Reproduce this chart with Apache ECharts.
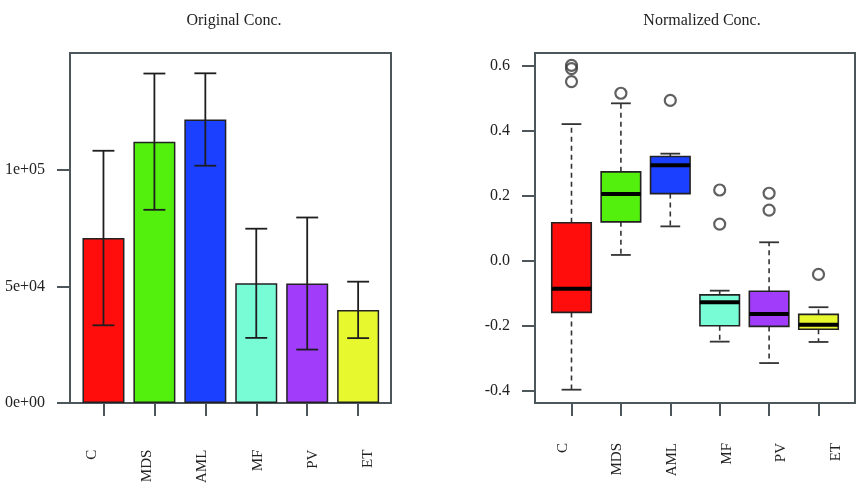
<!DOCTYPE html>
<html>
<head>
<meta charset="utf-8">
<title>Conc.</title>
<script src="https://cdn.jsdelivr.net/npm/echarts@6/dist/echarts.min.js"></script>
<style>
  html, body { margin: 0; padding: 0; background: #fff; }
  #main { width: 863px; height: 486px; }
</style>
</head>
<body>
<div id="main"></div>
<script>
// categories
var categories = ['C', 'MDS', 'AML', 'MF', 'PV', 'ET'];
var colors = ['#ff0c0c', '#52f00c', '#1c40ff', '#78fcd6', '#a03cfa', '#e8f82e'];

// left: original conc. (mean +/- error)
var barMeans = [70700, 112000, 121500, 51300, 51200, 39900];
var barErrors = [37400, 29200, 19800, 23400, 28300, 12100];
var leftTickLabels = ['0e+00', '5e+04', '1e+05'];

// right: normalized conc. boxplot
var boxLower = [-0.397, 0.018, 0.106, -0.249, -0.315, -0.250];
var boxQ1 = [-0.159, 0.120, 0.207, -0.200, -0.202, -0.211];
var boxMedian = [-0.086, 0.206, 0.294, -0.128, -0.164, -0.197];
var boxQ3 = [0.117, 0.274, 0.321, -0.105, -0.094, -0.165];
var boxUpper = [0.421, 0.485, 0.330, -0.092, 0.057, -0.143];
var outliers = [[0, 0.602], [0, 0.592], [0, 0.552], [1, 0.516], [2, 0.494],
  [3, 0.218], [3, 0.113], [4, 0.208], [4, 0.156], [5, -0.042]];
var rightTickLabels = ['-0.4', '-0.2', '0.0', '0.2', '0.4', '0.6'];

var font = 'Liberation Serif';
var textColor = '#222';
var frameColor = '#4d575b';

var chart = echarts.init(document.getElementById('main'));

function hiddenX(grid) {
  return { type: 'value', gridIndex: grid, show: false };
}
function hiddenY(grid) {
  return { type: 'value', gridIndex: grid, show: false };
}
// category axis that only draws the ticks (kept at the bottom, not at zero)
function tickX(grid) {
  return {
    type: 'category', gridIndex: grid, data: categories,
    axisLine: { show: false, onZero: false },
    axisTick: { show: true, alignWithLabel: true, length: 13, lineStyle: { color: frameColor, width: 2 } },
    axisLabel: { show: false },
    splitLine: { show: false }
  };
}
// category axis that only draws the names
function labelX(grid, margin) {
  return {
    type: 'category', gridIndex: grid, data: categories,
    axisLine: { show: false, onZero: false },
    axisTick: { show: false },
    axisLabel: { rotate: 90, margin: margin, fontFamily: font, fontSize: 15, color: textColor },
    splitLine: { show: false }
  };
}
function tickY(grid, min, max, interval, labels) {
  return {
    type: 'value', gridIndex: grid, min: min, max: max, interval: interval,
    axisLine: { show: false },
    axisTick: { show: true, length: 13, lineStyle: { color: frameColor, width: 2 } },
    axisLabel: {
      margin: 25, fontFamily: font, fontSize: 16, color: textColor,
      formatter: function (v, i) { return labels[i]; }
    },
    splitLine: { show: false }
  };
}

var errorData = categories.map(function (c, i) {
  return [i, barMeans[i] - barErrors[i], barMeans[i] + barErrors[i]];
});
var boxData = categories.map(function (c, i) {
  return [i, boxLower[i], boxQ1[i], boxMedian[i], boxQ3[i], boxUpper[i]];
});

var option = {
  animation: false,
  backgroundColor: '#fff',
  title: [
    { text: 'Original Conc.', left: 229, top: 8, textAlign: 'center',
      textStyle: { fontFamily: font, fontSize: 16, fontWeight: 'normal', color: textColor } },
    { text: 'Normalized Conc.', left: 697, top: 8, textAlign: 'center',
      textStyle: { fontFamily: font, fontSize: 16, fontWeight: 'normal', color: textColor } }
  ],
  grid: [
    // left panel: frame, y ticks, data, names
    { left: 70, top: 53, width: 321, height: 350, show: true, borderColor: frameColor, borderWidth: 2, backgroundColor: 'transparent' },
    { left: 70, top: 169.7, width: 321, height: 233.3 },
    { left: 78, top: 53, width: 305.6, height: 350 },
    { left: 64, top: 53, width: 332, height: 350 },
    // right panel
    { left: 535, top: 53, width: 320, height: 350, show: true, borderColor: frameColor, borderWidth: 2, backgroundColor: 'transparent' },
    { left: 535, top: 66, width: 320, height: 324.7 },
    { left: 546.8, top: 53, width: 296.4, height: 350 },
    { left: 535.6, top: 53, width: 332.4, height: 350 }
  ],
  xAxis: [
    hiddenX(0), hiddenX(1), tickX(2), labelX(3, 47),
    hiddenX(4), hiddenX(5), tickX(6), labelX(7, 40)
  ],
  yAxis: [
    hiddenY(0),
    tickY(1, 0, 100000, 50000, leftTickLabels),
    { type: 'value', gridIndex: 2, min: 0, max: 150000, show: false },
    hiddenY(3),
    hiddenY(4),
    tickY(5, -0.4, 0.6, 0.2, rightTickLabels),
    { type: 'value', gridIndex: 6, min: -0.438, max: 0.64, show: false },
    hiddenY(7)
  ],
  series: [
    {
      type: 'bar',
      xAxisIndex: 2, yAxisIndex: 2,
      barWidth: 42,
      data: barMeans.map(function (v, i) {
        return { value: v, itemStyle: { color: colors[i] } };
      }),
      itemStyle: { borderColor: '#222', borderWidth: 1.5 }
    },
    {
      // error bars
      type: 'custom',
      xAxisIndex: 2, yAxisIndex: 2,
      data: errorData,
      encode: { x: 0, y: [1, 2] },
      z: 5,
      renderItem: function (params, api) {
        var lo = api.coord([api.value(0), api.value(1)]);
        var hi = api.coord([api.value(0), api.value(2)]);
        var half = api.size([1, 0])[0] * 0.215;
        var st = { stroke: '#1e1e1e', lineWidth: 1.8 };
        return {
          type: 'group',
          children: [
            { type: 'line', shape: { x1: lo[0], y1: lo[1], x2: hi[0], y2: hi[1] }, style: st },
            { type: 'line', shape: { x1: hi[0] - half, y1: hi[1], x2: hi[0] + half, y2: hi[1] }, style: st },
            { type: 'line', shape: { x1: lo[0] - half, y1: lo[1], x2: lo[0] + half, y2: lo[1] }, style: st }
          ]
        };
      }
    },
    {
      // boxplots with dashed whiskers
      type: 'custom',
      xAxisIndex: 6, yAxisIndex: 6,
      data: boxData,
      encode: { x: 0, y: [1, 2, 3, 4, 5] },
      renderItem: function (params, api) {
        var i = api.value(0);
        var low = api.coord([i, api.value(1)]);
        var q1 = api.coord([i, api.value(2)]);
        var med = api.coord([i, api.value(3)]);
        var q3 = api.coord([i, api.value(4)]);
        var up = api.coord([i, api.value(5)]);
        var hw = api.size([1, 0])[0] * 0.4;
        var x = low[0];
        var dash = { stroke: '#333', lineWidth: 1.6, lineDash: [5, 4] };
        var solid = { stroke: '#333', lineWidth: 1.8 };
        return {
          type: 'group',
          children: [
            { type: 'line', shape: { x1: x, y1: q3[1], x2: x, y2: up[1] }, style: dash },
            { type: 'line', shape: { x1: x, y1: q1[1], x2: x, y2: low[1] }, style: dash },
            { type: 'line', shape: { x1: x - hw / 2, y1: up[1], x2: x + hw / 2, y2: up[1] }, style: solid },
            { type: 'line', shape: { x1: x - hw / 2, y1: low[1], x2: x + hw / 2, y2: low[1] }, style: solid },
            { type: 'rect', shape: { x: x - hw, y: q3[1], width: hw * 2, height: q1[1] - q3[1] },
              style: { fill: colors[i], stroke: '#222', lineWidth: 1.6 } },
            { type: 'line', shape: { x1: x - hw, y1: med[1], x2: x + hw, y2: med[1] },
              style: { stroke: '#000', lineWidth: 4 } }
          ]
        };
      }
    },
    {
      type: 'scatter',
      xAxisIndex: 6, yAxisIndex: 6,
      data: outliers,
      symbol: 'circle',
      symbolSize: 11,
      itemStyle: { color: 'transparent', borderColor: '#383838', borderWidth: 2.2 }
    }
  ]
};

chart.setOption(option);
</script>
</body>
</html>
